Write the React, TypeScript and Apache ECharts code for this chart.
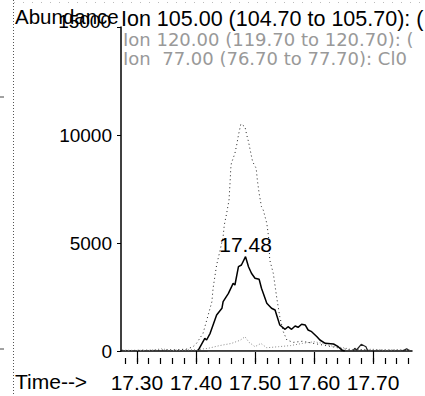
import React, { useEffect, useRef } from "react";
import * as echarts from "echarts";

// Ion 105.00 (solid) — main trace
const times105 = [17.404, 17.415, 17.418, 17.424, 17.432, 17.435, 17.444, 17.446, 17.455, 17.463, 17.466, 17.472, 17.477, 17.484, 17.489, 17.494, 17.5, 17.507, 17.511, 17.52, 17.528, 17.534, 17.542, 17.551, 17.556, 17.562, 17.568, 17.573, 17.579, 17.585, 17.59, 17.596, 17.605, 17.61, 17.619, 17.633, 17.641, 17.647, 17.652];
const values105 = [40, 588, 509, 819, 1435, 1667, 1977, 2283, 2671, 3134, 3056, 3903, 3982, 4366, 3903, 3597, 3366, 3320, 2903, 2208, 1977, 1898, 1204, 1005, 1125, 1005, 1158, 1097, 1236, 1204, 972, 894, 662, 509, 356, 324, 199, 46, 0];
// small solid bumps after the peak
const timesBump = [17.666, 17.669, 17.672, 17.68, 17.688, 17.691, 17.75, 17.753, 17.757, 17.761];
const valuesBump = [0, 125, 46, 310, 199, 0, 0, 40, 100, 20];

// Ion 120.00 (dark dotted)
const times120 = [17.275, 17.29, 17.31, 17.33, 17.35, 17.37, 17.385, 17.395, 17.401, 17.412, 17.427, 17.429, 17.435, 17.441, 17.446, 17.448, 17.452, 17.456, 17.458, 17.459, 17.46, 17.466, 17.469, 17.472, 17.476, 17.483, 17.486, 17.489, 17.493, 17.496, 17.502, 17.504, 17.507, 17.511, 17.514, 17.52, 17.523, 17.525, 17.531, 17.537, 17.542, 17.548, 17.554, 17.565, 17.58, 17.6, 17.62, 17.64, 17.66, 17.68, 17.7, 17.72, 17.74, 17.765];
const values120 = [30, 20, 40, 30, 50, 60, 90, 199, 356, 819, 2283, 2903, 3982, 4676, 5292, 5834, 6375, 6991, 7917, 8459, 8690, 9153, 9538, 10000, 10510, 10385, 10000, 9690, 9153, 8765, 8459, 7917, 7302, 6681, 6528, 5912, 5292, 4213, 3597, 2440, 1588, 894, 509, 400, 450, 350, 250, 150, 60, 50, 40, 50, 40, 30];

// Ion 77.00 (grey dotted)
const times77 = [17.275, 17.3, 17.32, 17.342, 17.36, 17.38, 17.4, 17.42, 17.44, 17.46, 17.475, 17.483, 17.49, 17.5, 17.51, 17.52, 17.54, 17.56, 17.58, 17.6, 17.61, 17.62, 17.635, 17.65, 17.665, 17.7, 17.72, 17.74, 17.765];
const values77 = [40, 30, 30, 100, 30, 50, 60, 120, 250, 350, 500, 660, 400, 200, 350, 150, 200, 250, 350, 430, 380, 300, 200, 150, 60, 80, 40, 60, 30];

const majorTicks = [17.3, 17.4, 17.5, 17.6, 17.7];
const minorTicks = [17.28, 17.3, 17.32, 17.34, 17.36, 17.38, 17.4, 17.42, 17.44, 17.46, 17.48, 17.5, 17.52, 17.54, 17.56, 17.58, 17.6, 17.62, 17.64, 17.66, 17.68, 17.7, 17.72, 17.74, 17.76];
const peakLabel = { time: 17.484, value: 4366, text: "17.48" };
const baselineSeg = [17.42, 17.645];

const FONT = "Liberation Sans, Arial, sans-serif";

export default function App() {
  const ref = useRef<HTMLDivElement>(null);
  useEffect(() => {
    if (!ref.current) return;
    const chart = echarts.init(ref.current, null, { renderer: "svg" });
    const pair = (t: number[], v: number[]) => t.map((x, i) => [x, v[i]]);
    const bumps = pair(timesBump, valuesBump);
    bumps.splice(6, 0, [17.72, null as any]);
    const xCommon = {
      type: "value" as const,
      min: 17.273,
      max: 17.766,
      position: "bottom" as const,
      offset: 7,
      splitLine: { show: false },
    };
    chart.setOption({
      animation: false,
      backgroundColor: "#fff",
      grid: { left: 121, right: 13, top: 27, bottom: 45 },
      xAxis: [
        {
          ...xCommon,
          axisLine: { show: true, lineStyle: { color: "#000", width: 1.5 } },
          axisTick: { show: true, length: 11, customValues: majorTicks, lineStyle: { color: "#000", width: 1.2 } },
          axisLabel: {
            show: true,
            customValues: majorTicks,
            formatter: (v: number) => v.toFixed(2),
            fontSize: 21,
            fontFamily: FONT,
            color: "#000",
            margin: 14,
          },
        },
        {
          ...xCommon,
          axisLine: { show: false },
          axisTick: { show: true, length: 6, customValues: minorTicks, lineStyle: { color: "#000", width: 1.2 } },
          axisLabel: { show: false },
        },
      ],
      yAxis: {
        type: "value",
        min: 0,
        max: 15000,
        interval: 5000,
        splitLine: { show: false },
        axisLine: { show: true, lineStyle: { color: "#000", width: 1.5 } },
        axisTick: { show: true, length: 4, lineStyle: { color: "#000" } },
        axisLabel: {
          fontSize: 19,
          fontFamily: FONT,
          color: "#000",
          margin: 9,
          formatter: (v: number) => (v === 15000 ? "" : String(v)),
        },
      },
      series: [
        {
          type: "line",
          xAxisIndex: 0,
          data: pair(times77, values77),
          symbol: "none",
          lineStyle: { color: "#888", width: 1, type: [1, 2] },
        },
        {
          type: "line",
          xAxisIndex: 0,
          data: pair(times120, values120),
          symbol: "none",
          lineStyle: { color: "#222", width: 1, type: [1, 3] },
        },
        {
          type: "line",
          xAxisIndex: 0,
          data: pair(times105, values105),
          symbol: "none",
          lineStyle: { color: "#000", width: 1.5 },
          markLine: {
            silent: true,
            symbol: "none",
            label: { show: false },
            lineStyle: { color: "#555", width: 1.2, type: "solid" },
            data: [[{ coord: [baselineSeg[0], 0] }, { coord: [baselineSeg[1], 0] }]],
          },
          markPoint: {
            symbol: "circle",
            symbolSize: 1,
            itemStyle: { color: "rgba(0,0,0,0)" },
            label: {
              show: true,
              position: "top",
              distance: 1,
              formatter: peakLabel.text,
              fontSize: 21,
              fontFamily: FONT,
              color: "#000",
            },
            data: [{ coord: [peakLabel.time, peakLabel.value] }],
          },
        },
        {
          type: "line",
          xAxisIndex: 0,
          data: bumps,
          connectNulls: false,
          symbol: "none",
          lineStyle: { color: "#222", width: 1.2 },
        },
      ],
      graphic: [
        { type: "line", shape: { x1: 13.5, y1: 0, x2: 13.5, y2: 396 }, style: { stroke: "#555", lineWidth: 1, lineDash: [1, 2] } },
        { type: "line", shape: { x1: 14, y1: 2.5, x2: 425, y2: 2.5 }, style: { stroke: "#bbb", lineWidth: 1, lineDash: [1, 8] } },
        { type: "line", shape: { x1: 0, y1: 97, x2: 4, y2: 97 }, style: { stroke: "#444", lineWidth: 1 } },
        { type: "line", shape: { x1: 0, y1: 349, x2: 4, y2: 349 }, style: { stroke: "#444", lineWidth: 1 } },
        { type: "text", style: { text: "Abundance", x: 15, y: 16, fontSize: 20.5, fontFamily: FONT, fill: "#000", verticalAlign: "middle" } },
        { type: "text", style: { text: "Ion 105.00 (104.70 to 105.70): (", x: 121, y: 18.5, fontSize: 21.5, fontFamily: FONT, fill: "#000", verticalAlign: "middle" } },
        { type: "text", style: { text: "15000", x: 111, y: 21, fontSize: 19, fontFamily: FONT, fill: "#000", align: "right", verticalAlign: "middle" } },
        { type: "text", style: { text: "Ion 120.00 (119.70 to 120.70): (", x: 123, y: 39, fontSize: 18, fontFamily: "DejaVu Sans", fill: "#999", verticalAlign: "middle" } },
        { type: "text", style: { text: "Ion  77.00 (76.70 to 77.70): Cl0", x: 123, y: 58, fontSize: 18, fontFamily: "DejaVu Sans", fill: "#999", verticalAlign: "middle" } },
        { type: "text", style: { text: "Time-->", x: 15, y: 381, fontSize: 21, fontFamily: FONT, fill: "#000", verticalAlign: "middle" } },
      ],
    });
    return () => chart.dispose();
  }, []);
  return (
    <div
      ref={ref}
      style={{ position: "fixed", left: 0, top: 0, width: 425, height: 396, background: "#fff" }}
    />
  );
}
